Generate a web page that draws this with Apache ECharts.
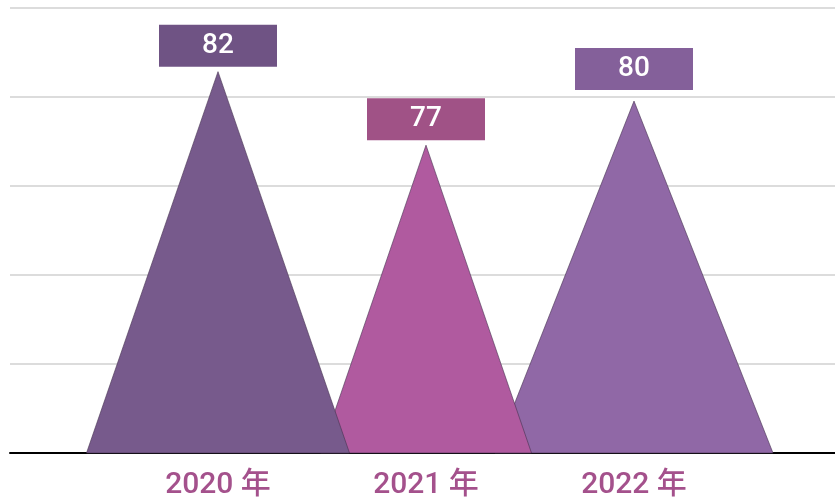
<!DOCTYPE html>
<html>
<head>
<meta charset="utf-8">
<style>
  html, body { margin: 0; padding: 0; background: #ffffff; }
  #chart { width: 835px; height: 500px; }
</style>
<script src="https://cdn.jsdelivr.net/npm/echarts@6/dist/echarts.min.js"></script>
</head>
<body>
<div id="chart"></div>
<script>
// ---- data ----
const categories = ['2020 年', '2021 年', '2022 年'];
const values = [82, 77, 80];

// ---- scale / styles ----
const valueMin = 56.06;
const valueMax = 86.33;
const triangleWidths = [263, 211, 278];
const triangleColors = ['#775a8c', '#b05a9f', '#9068a6'];
const labelBoxColors = ['#6f5384', '#a05286', '#84609a'];
const labelGaps = [5, 5, 11];
const stackOrder = [3, 2, 1];
const labelBoxW = 118, labelBoxH = 42;

const axisCategories = [''].concat(categories, ['']);
const seriesData = values.map(function (v, i) { return [i + 1, v]; });

function renderItem(params, api) {
  const i = params.dataIndex;
  const tip = api.coord([api.value(0), api.value(1)]);
  const base = api.coord([api.value(0), valueMin]);
  const hw = triangleWidths[i] / 2;
  const boxBottom = tip[1] - labelGaps[i];
  return {
    type: 'group',
    children: [
      {
        type: 'polygon',
        z2: stackOrder[i],
        shape: { points: [[tip[0] - hw, base[1]], [tip[0], tip[1]], [tip[0] + hw, base[1]]] },
        style: { fill: triangleColors[i], stroke: 'rgba(70,50,80,0.6)', lineWidth: 1 }
      },
      {
        type: 'rect',
        z2: 10,
        shape: { x: tip[0] - labelBoxW / 2, y: boxBottom - labelBoxH, width: labelBoxW, height: labelBoxH },
        style: { fill: labelBoxColors[i] }
      },
      {
        type: 'text',
        z2: 11,
        style: {
          text: String(api.value(1)),
          x: tip[0],
          y: boxBottom - labelBoxH / 2,
          fill: '#ffffff',
          fontSize: 28,
          fontWeight: 500,
          fontFamily: 'Roboto, sans-serif',
          align: 'center',
          verticalAlign: 'middle',
          textAlign: 'center',
          textVerticalAlign: 'middle'
        }
      }
    ]
  };
}

const chart = echarts.init(document.getElementById('chart'), null, { renderer: 'canvas' });
chart.setOption({
  animation: false,
  backgroundColor: '#ffffff',
  grid: { left: 10, width: 832, top: 8, height: 445, containLabel: false, outerBoundsMode: 'none' },
  xAxis: {
    type: 'category',
    data: axisCategories,
    boundaryGap: false,
    axisLine: { onZero: false, lineStyle: { color: '#000000', width: 2 } },
    axisTick: { show: false },
    splitLine: { show: false },
    axisLabel: {
      color: '#a4518c',
      fontFamily: 'Roboto, "Noto Sans CJK SC", sans-serif',
      fontSize: 30,
      fontWeight: 500,
      margin: 17
    }
  },
  yAxis: [
    {
      type: 'value',
      min: valueMin,
      max: valueMax,
      show: false,
      splitLine: { show: false }
    },
    {
      type: 'value',
      min: 0,
      max: 5,
      interval: 1,
      position: 'left',
      axisLine: { show: false },
      axisTick: { show: false },
      axisLabel: { show: false },
      splitLine: { show: true, lineStyle: { color: '#dcdcdc', width: 2 } }
    }
  ],
  series: [
    {
      type: 'custom',
      yAxisIndex: 0,
      renderItem: renderItem,
      encode: { x: 0, y: 1 },
      clip: false,
      data: seriesData
    }
  ]
});
</script>
</body>
</html>
